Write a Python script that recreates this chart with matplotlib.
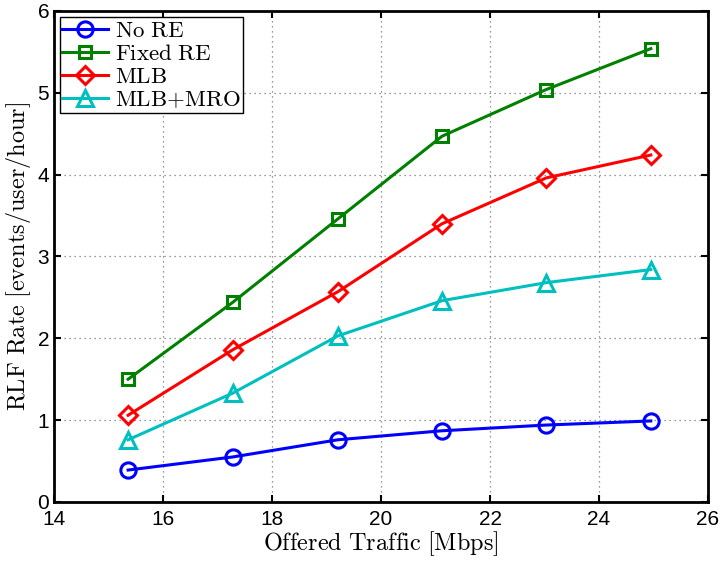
import matplotlib
matplotlib.use("Agg")
import matplotlib.pyplot as plt

plt.rcParams["mathtext.fontset"] = "cm"
plt.rcParams["font.family"] = ["Liberation Sans", "DejaVu Sans"]

traffic = [15.36, 17.28, 19.21, 21.12, 23.03, 24.95]
no_re = [0.39, 0.55, 0.76, 0.87, 0.94, 0.99]
fixed_re = [1.50, 2.44, 3.46, 4.47, 5.04, 5.54]
mlb = [1.06, 1.86, 2.57, 3.40, 3.96, 4.24]
mlb_mro = [0.76, 1.33, 2.03, 2.46, 2.68, 2.84]

series = [
    (no_re, r"$\mathrm{No\ RE}$", "#0000ff", "o"),
    (fixed_re, r"$\mathrm{Fixed\ RE}$", "#008000", "s"),
    (mlb, r"$\mathrm{MLB}$", "#ff0000", "D"),
    (mlb_mro, r"$\mathrm{MLB{+}MRO}$", "#00bfbf", "^"),
]

fig = plt.figure(figsize=(7.23, 5.64), dpi=100)
ax = fig.add_axes([0.0747, 0.110, 0.9046, 0.8705])

for values, label, color, marker in series:
    ms = 9 if marker in ("s", "D") else 11
    ax.plot(traffic, values, color=color, linewidth=2.2, marker=marker,
            markersize=ms, markerfacecolor="none", markeredgewidth=2.2,
            label=label)

ax.set_xlim(14, 26)
ax.set_ylim(0, 6)
ax.set_xticks(range(14, 27, 2))
ax.set_yticks(range(0, 7))
ax.tick_params(direction="in", top=True, right=True, length=5, width=1.5,
               labelsize=15)
ax.tick_params(axis="x", pad=6)
for s in ax.spines.values():
    s.set_linewidth(2)
ax.grid(True, linestyle=(0, (1, 3)), color="#777777", linewidth=0.9)

ax.set_xlabel(r"$\mathrm{Offered\ Traffic\ [Mbps]}$", fontsize=17.5,
              labelpad=0)
ax.set_ylabel(r"$\mathrm{RLF\ Rate\ [events/user/hour]}$", fontsize=17.5,
              labelpad=3)

leg = ax.legend(loc="upper left", fontsize=16.5, handlelength=2.0,
                borderaxespad=0.25, borderpad=0.1, labelspacing=0.0,
                handletextpad=0.3, fancybox=False, framealpha=1)
leg.get_frame().set_edgecolor("black")
leg.get_frame().set_linewidth(1)

fig.savefig("out.png", dpi=100)
